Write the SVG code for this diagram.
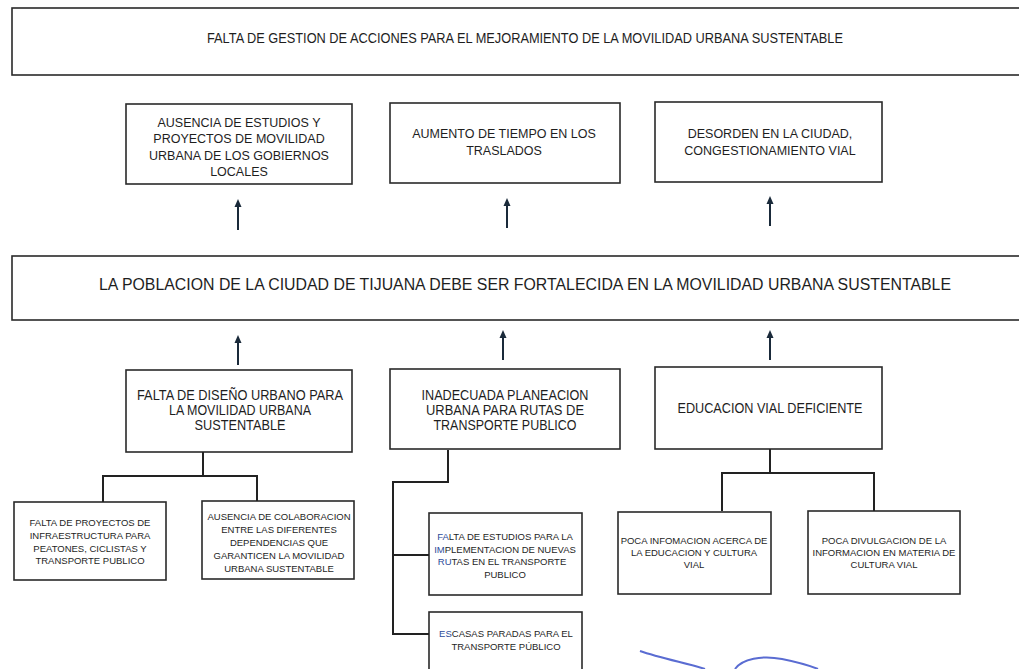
<svg xmlns="http://www.w3.org/2000/svg" width="1019" height="669" viewBox="0 0 1019 669">
<defs>
<marker id="ah" markerWidth="8" markerHeight="8" refX="4" refY="4" orient="auto" markerUnits="userSpaceOnUse">
<path d="M0,0.5 L8,4 L0,7.5 Z" fill="#1a2a3a"/>
</marker>
<style>
.box{fill:#fff;stroke:#2a2a2a;stroke-width:1.6}
.t{font-family:"Liberation Sans",Arial,sans-serif;fill:#1e1e1e;text-anchor:middle}
.c{font-size:14px}
.n{font-size:12.5px}
.s{font-size:9.5px}
.conn{fill:none;stroke:#222;stroke-width:2}
.arr{fill:none;stroke:#1a2a3a;stroke-width:2;marker-end:url(#ah)}
.hl{fill:#2b4a9a}
</style>
</defs>
<rect width="1019" height="669" fill="#fff"/>

<g id="top">
<rect class="box" x="12" y="8" width="1015" height="67"/>
<text class="t c" x="525" y="43" textLength="636" lengthAdjust="spacingAndGlyphs">FALTA DE GESTION DE ACCIONES PARA EL MEJORAMIENTO DE LA MOVILIDAD URBANA SUSTENTABLE</text>
</g>

<g id="e1">
<rect class="box" x="126" y="104" width="226" height="80"/>
<text class="t n"><tspan x="239" y="127">AUSENCIA DE ESTUDIOS Y</tspan><tspan x="239" y="143">PROYECTOS DE MOVILIDAD</tspan><tspan x="239" y="160">URBANA DE LOS GOBIERNOS</tspan><tspan x="239" y="176">LOCALES</tspan></text>
</g>
<g id="e2">
<rect class="box" x="390" y="103" width="230" height="80"/>
<text class="t n"><tspan x="504" y="138">AUMENTO DE TIEMPO EN LOS</tspan><tspan x="504" y="155">TRASLADOS</tspan></text>
</g>
<g id="e3">
<rect class="box" x="655" y="102" width="227" height="80"/>
<text class="t n"><tspan x="770" y="138">DESORDEN EN LA CIUDAD,</tspan><tspan x="770" y="155">CONGESTIONAMIENTO VIAL</tspan></text>
</g>

<g id="central">
<rect class="box" x="12" y="256" width="1015" height="64"/>
<text class="t" style="font-size:16px" x="525" y="290" textLength="852" lengthAdjust="spacingAndGlyphs">LA POBLACION DE LA CIUDAD DE TIJUANA DEBE SER FORTALECIDA EN LA MOVILIDAD URBANA SUSTENTABLE</text>
</g>

<g id="cA">
<rect class="box" x="126" y="370" width="226" height="82"/>
<text class="t c" x="240" y="400" textLength="206" lengthAdjust="spacingAndGlyphs">FALTA DE DISEÑO URBANO PARA</text>
<text class="t c" x="240" y="415" textLength="142" lengthAdjust="spacingAndGlyphs">LA MOVILIDAD URBANA</text>
<text class="t c" x="240" y="430" textLength="91" lengthAdjust="spacingAndGlyphs">SUSTENTABLE</text>
</g>
<g id="cB">
<rect class="box" x="390" y="369" width="230" height="80"/>
<text class="t c" x="505" y="400" textLength="167" lengthAdjust="spacingAndGlyphs">INADECUADA PLANEACION</text>
<text class="t c" x="505" y="415" textLength="158" lengthAdjust="spacingAndGlyphs">URBANA PARA RUTAS DE</text>
<text class="t c" x="505" y="430" textLength="143" lengthAdjust="spacingAndGlyphs">TRANSPORTE PUBLICO</text>
</g>
<g id="cC">
<rect class="box" x="655" y="367" width="227" height="82"/>
<text class="t c" x="770" y="413" textLength="185" lengthAdjust="spacingAndGlyphs">EDUCACION VIAL DEFICIENTE</text>
</g>

<g id="a1">
<rect class="box" x="14" y="502" width="152" height="78"/>
<text class="t s"><tspan x="90" y="526">FALTA DE PROYECTOS DE</tspan><tspan x="90" y="539">INFRAESTRUCTURA PARA</tspan><tspan x="90" y="552">PEATONES, CICLISTAS Y</tspan><tspan x="90" y="564">TRANSPORTE PUBLICO</tspan></text>
</g>
<g id="a2">
<rect class="box" x="202" y="501" width="152" height="78"/>
<text class="t s"><tspan x="279" y="520">AUSENCIA DE COLABORACION</tspan><tspan x="279" y="533">ENTRE LAS DIFERENTES</tspan><tspan x="279" y="546">DEPENDENCIAS QUE</tspan><tspan x="279" y="559">GARANTICEN LA MOVILIDAD</tspan><tspan x="279" y="572">URBANA SUSTENTABLE</tspan></text>
</g>
<g id="b1">
<rect class="box" x="429" y="513" width="153" height="82"/>
<text class="t s"><tspan x="505" y="540"><tspan class="hl">FA</tspan>LTA DE ESTUDIOS PARA LA</tspan><tspan x="505" y="553"><tspan class="hl">IM</tspan>PLEMENTACION DE NUEVAS</tspan><tspan x="502" y="565"><tspan class="hl">RU</tspan>TAS EN EL TRANSPORTE</tspan><tspan x="505" y="578">PUBLICO</tspan></text>
</g>
<g id="b2">
<rect class="box" x="429" y="612" width="153" height="64"/>
<text class="t s"><tspan x="506" y="637"><tspan class="hl">ES</tspan>CASAS PARADAS PARA EL</tspan><tspan x="506" y="650">TRANSPORTE PÚBLICO</tspan></text>
</g>
<g id="c1">
<rect class="box" x="618" y="512" width="153" height="82"/>
<text class="t s"><tspan x="694" y="544">POCA INFOMACION ACERCA DE</tspan><tspan x="694" y="556">LA EDUCACION Y CULTURA</tspan><tspan x="694" y="568">VIAL</tspan></text>
</g>
<g id="c2">
<rect class="box" x="808" y="511" width="152" height="83"/>
<text class="t s"><tspan x="884" y="544">POCA DIVULGACION DE LA</tspan><tspan x="884" y="556">INFORMACION EN MATERIA DE</tspan><tspan x="884" y="568">CULTURA VIAL</tspan></text>
</g>

<g id="connectors">
<line class="arr" x1="238" y1="230" x2="238" y2="203"/>
<line class="arr" x1="507" y1="228" x2="507" y2="202"/>
<line class="arr" x1="770" y1="226" x2="770" y2="200"/>
<line class="arr" x1="238" y1="365" x2="238" y2="339"/>
<line class="arr" x1="503" y1="360" x2="503" y2="334"/>
<line class="arr" x1="770" y1="360" x2="770" y2="334"/>
<path class="conn" d="M203,452 V476 M103,502 V476 H257 V501"/>
<path class="conn" d="M448,450 V482 H393 V634 H429 M393,555 H429"/>
<path class="conn" d="M770,449 V473 M722,511 V473 H874 V511"/>
</g>

<path d="M640,651 C660,658 690,664 705,669 M735,669 C742,659 762,655 782,659 C797,662 808,665 818,669" fill="none" stroke="#5a6cd2" stroke-width="2"/>
</svg>
